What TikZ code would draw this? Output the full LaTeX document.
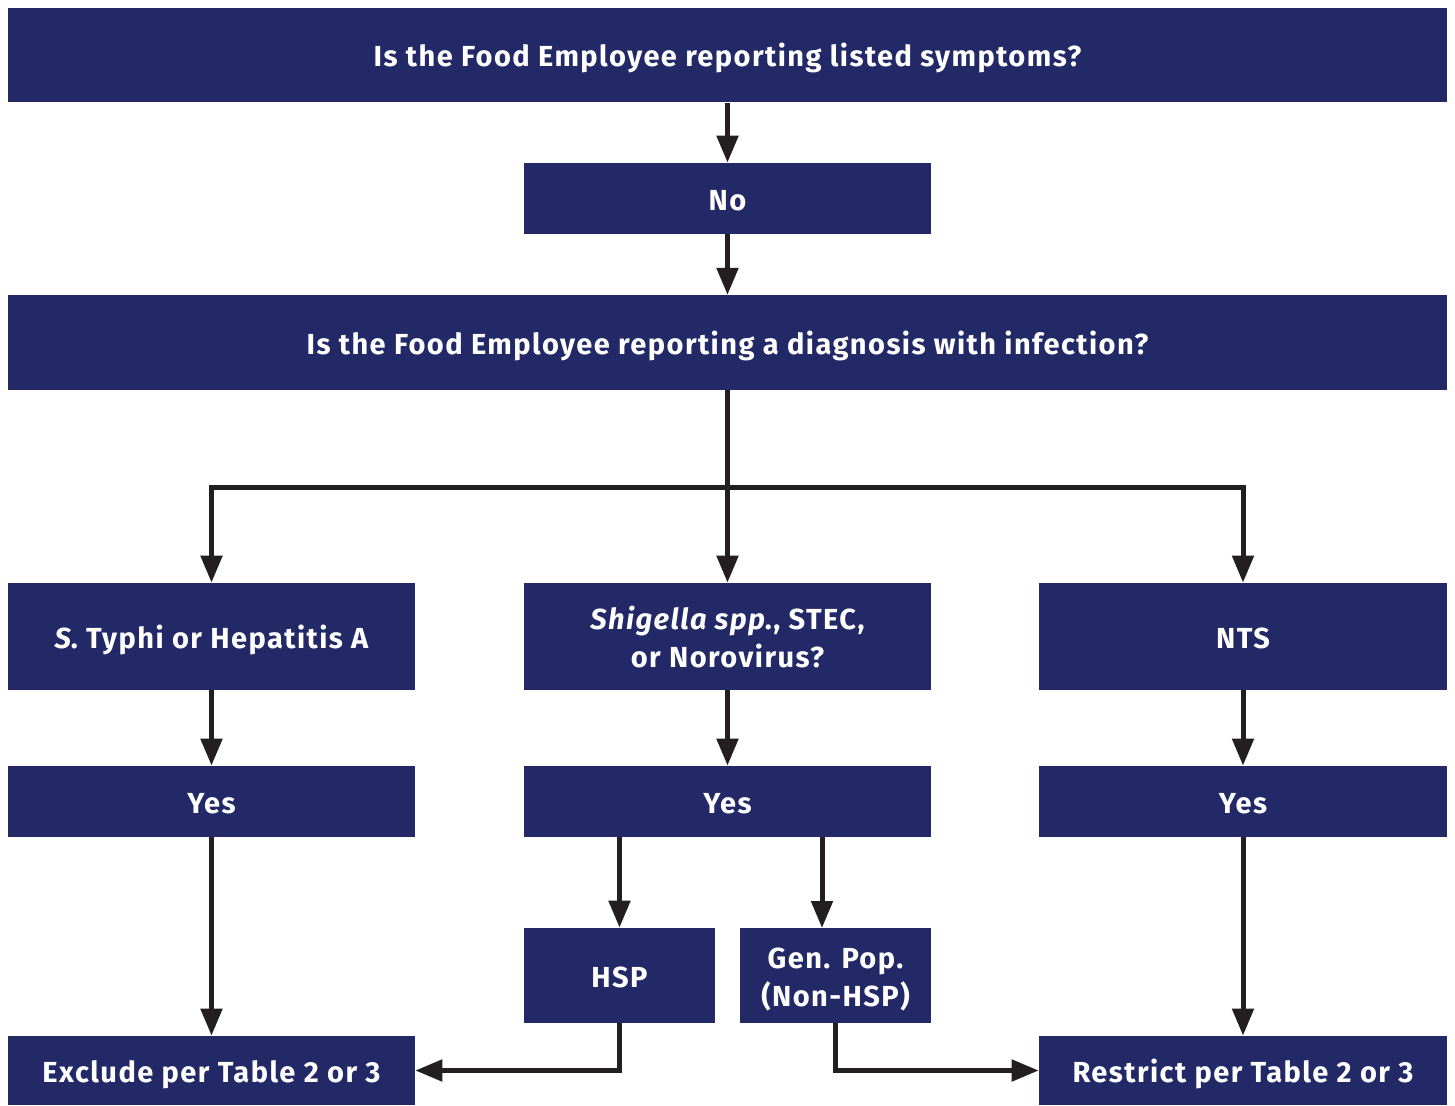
\documentclass[tikz,border=0pt]{standalone}
\usepackage{fontspec}
\setmainfont{Fira Sans}[LetterSpace=5]
\usepackage{tikz}
\usetikzlibrary{positioning,arrows.meta}
\definecolor{navy}{HTML}{222966}
\definecolor{ink}{HTML}{231F20}

\begin{document}
\begin{tikzpicture}[
        x=0.02cm,
        y=-0.02cm,
        block/.style={
            rectangle,
            fill=navy,
            text=white,
            font=\fontsize{16.5}{21.5}\selectfont\bfseries,
            align=center,
            inner sep=0pt,
            text height=0.58cm,
            text depth=0.12cm,
            minimum width=8.14cm,
            minimum height=1.42cm
        },
        twoline/.style={
            text height=1.36cm
        },
        wide/.style={
            block,
            minimum width=28.78cm,
            minimum height=1.89cm
        },
        small/.style={
            block,
            minimum width=3.82cm,
            minimum height=1.9cm
        },
        line/.style={
            draw=ink,
            line width=0.1cm,
            -{Triangle[length=0.54cm,width=0.42cm]}
        },
      ]
        \useasboundingbox (0,0) rectangle (1455,1106);
        \node [wide] (symptoms) at (727.5,55) {Is the Food Employee reporting listed symptoms?};
        \node [block] (no) at (727.5,198.5) {No};
        \node [wide] (diagnosis) at (727.5,342.5) {Is the Food Employee reporting a diagnosis with infection?};
        \node [block,minimum height=2.14cm] (typhi) at (211.5,636.5) {{\itshape S}. Typhi or Hepatitis A};
        \node [block,twoline,minimum height=2.14cm] (shigella) at (727.5,636.5) {{\itshape Shigella spp}., STEC,\\or Norovirus?};
        \node [block,minimum height=2.14cm,minimum width=8.16cm] (nts) at (1243,636.5) {NTS};
        \node [block] (yes-typhi) at (211.5,801.5) {Yes};
        \node [block] (yes-shigella) at (727.5,801.5) {Yes};
        \node [block,minimum width=8.16cm] (yes-nts) at (1243,801.5) {Yes};
        \node [small] (hsp) at (619.5,975.5) {HSP};
        \node [small,twoline] (genpop) at (835.5,975.5) {Gen. Pop.\\(Non-HSP)};
        \node [block,minimum height=1.38cm] (exclude) at (211.5,1070.5) {Exclude per Table 2 or 3};
        \node [block,minimum height=1.38cm,minimum width=8.16cm] (restrict) at (1243,1070.5) {Restrict per Table 2 or 3};
        \coordinate (split) at (727.5,487);
        \coordinate (genpop-in) at (822,928);
        \path [line] (symptoms) -- (no);
        \path [line] (no) -- (diagnosis);
        \draw [ink,line width=0.1cm] (diagnosis.south) -- (split);
        \path [line] (split) -| (typhi);
        \path [line] (split) -- (shigella);
        \path [line] (split) -| (nts);
        \path [line] (typhi) -- (yes-typhi);
        \path [line] (shigella) -- (yes-shigella);
        \path [line] (nts) -- (yes-nts);
        \path [line] (yes-typhi) -- (exclude);
        \path [line] (yes-nts) -- (restrict);
        \path [line] (yes-shigella.south -| hsp.north) -- (hsp);
        \path [line] (yes-shigella.south -| genpop-in) -- (genpop-in);
        \path [line] (hsp.south) |- (exclude.east);
        \path [line] (genpop.south) |- (restrict.west);
      \end{tikzpicture}
\end{document}
